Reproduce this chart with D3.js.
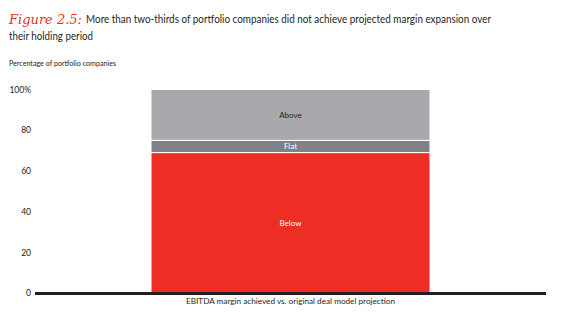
<!DOCTYPE html>
<html><head><meta charset="utf-8">
<script src="https://cdn.jsdelivr.net/npm/d3@7"></script>
<style>body{margin:0;background:#fff}svg{display:block}</style>
</head><body>
<script>
const categories = ["EBITDA margin achieved vs. original deal model projection"];
const segments = ["Below", "Flat", "Above"];
const values = [69, 6, 25];
const colors = ["#ee2e24", "#808285", "#a7a9ac"];
const labelColors = ["#ffffff", "#ffffff", "#231f20"];
const yTicks = [0, 20, 40, 60, 80, 100];

const W = 579, H = 326;
const svg = d3.select("body").append("svg").attr("width", W).attr("height", H);
const FF = "Lato, sans-serif";

// Title
svg.append("text").attr("x", 9).attr("y", 24)
  .attr("fill", "#ee2e24").attr("font-family", "'DejaVu Serif', serif").attr("font-style", "italic")
  .attr("font-size", 13).attr("textLength", 73).attr("lengthAdjust", "spacingAndGlyphs").text("Figure 2.5:");
svg.append("text").attr("x", 86).attr("y", 23).attr("font-family", FF).attr("font-size", 11.5)
  .attr("fill", "#231f20").attr("textLength", 405).attr("lengthAdjust", "spacingAndGlyphs")
  .text("More than two-thirds of portfolio companies did not achieve projected margin expansion over");
svg.append("text").attr("x", 9).attr("y", 40).attr("font-family", FF).attr("font-size", 11.5)
  .attr("fill", "#231f20").attr("textLength", 84).attr("lengthAdjust", "spacingAndGlyphs").text("their holding period");

svg.append("text").attr("x", 9).attr("y", 66).attr("font-family", FF).attr("font-size", 7.5).attr("fill", "#231f20")
  .attr("textLength", 107).attr("lengthAdjust", "spacingAndGlyphs").text("Percentage of portfolio companies");

const y = d3.scaleLinear().domain([0, 100]).range([293, 89.5]);
const x = d3.scaleBand().domain(categories).range([35, 546]).paddingInner(0).paddingOuter(0.4158);

// y-axis labels
const yAxis = d3.axisLeft(y).tickValues(yTicks).tickSize(0).tickPadding(0)
  .tickFormat(d => d === 100 ? "100%" : d);
const ga = svg.append("g").attr("transform", "translate(31,0)").call(yAxis);
ga.select(".domain").remove();
ga.selectAll("text").attr("font-family", FF).attr("font-size", 8.5).attr("fill", "#231f20");

// stacked
const cum = [];
let acc = 0;
values.forEach((v, i) => { cum.push([acc, acc + v]); acc += v; });

const bw = x.bandwidth();
const bx = x(categories[0]);
svg.selectAll("rect.seg").data(cum).join("rect").attr("class", "seg")
  .attr("x", bx).attr("width", bw)
  .attr("y", d => y(d[1])).attr("height", d => y(d[0]) - y(d[1]))
  .attr("fill", (d, i) => colors[i])
  .attr("stroke", "#fff").attr("stroke-width", 1);

svg.selectAll("text.seglab").data(cum).join("text").attr("class", "seglab")
  .attr("x", bx + bw / 2).attr("y", d => (y(d[0]) + y(d[1])) / 2)
  .attr("dy", "0.35em").attr("text-anchor", "middle")
  .attr("font-family", FF).attr("font-size", 8)
  .attr("fill", (d, i) => labelColors[i]).text((d, i) => segments[i]);

// baseline
svg.append("line").attr("x1", 35).attr("x2", 546).attr("y1", y(0) + 0.5).attr("y2", y(0) + 0.5)
  .attr("stroke", "#231f20").attr("stroke-width", 3);

// x label
const xAxis = d3.axisBottom(x).tickSize(0).tickPadding(0);
const gx = svg.append("g").attr("transform", `translate(0,${y(0) + 5})`).call(xAxis);
gx.select(".domain").remove();
gx.selectAll("text").attr("font-family", FF).attr("font-size", 8).attr("fill", "#231f20").attr("dy", "0.71em")
  .attr("textLength", 209).attr("lengthAdjust", "spacingAndGlyphs");
</script>
</body></html>
